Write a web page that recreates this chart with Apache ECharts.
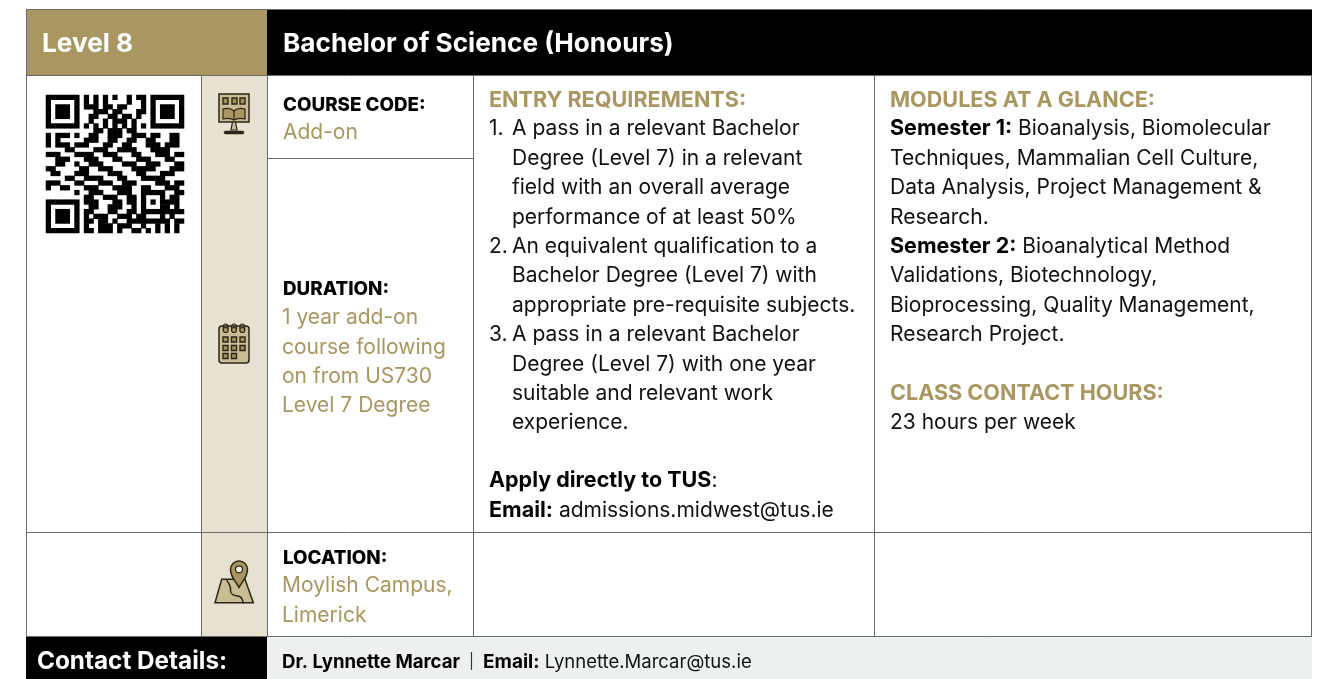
<!DOCTYPE html>
<html lang="en">
<head>
<meta charset="UTF-8">
<title>Bachelor of Science (Honours)</title>
<script src="https://cdn.jsdelivr.net/npm/echarts@6/dist/echarts.min.js"></script>
<style>
html,body{margin:0;padding:0;background:#fff}
#main{width:1325px;height:679px}
</style>
</head>
<body>
<div id="main"></div>
<script>
// page text
var levelTitle = 'Level 8';
var courseTitle = 'Bachelor of Science (Honours)';
var courseCodeLabel = 'COURSE CODE:';
var courseCodeValue = 'Add-on';
var durationLabel = 'DURATION:';
var durationLines = ['1 year add-on', 'course following', 'on from US730', 'Level 7 Degree'];
var locationLabel = 'LOCATION:';
var locationLines = ['Moylish Campus,', 'Limerick'];
var entryLabel = 'ENTRY REQUIREMENTS:';
var entryNumbers = ['1.', '', '', '', '2.', '', '', '3.', '', '', ''];
var entryLines = [
  'A pass in a relevant Bachelor', 'Degree (Level 7) in a relevant', 'field with an overall average',
  'performance of at least 50%', 'An equivalent qualification to a', 'Bachelor Degree (Level 7) with',
  'appropriate pre-requisite subjects.', 'A pass in a relevant Bachelor', 'Degree (Level 7) with one year',
  'suitable and relevant work', 'experience.'
];
var modulesLabel = 'MODULES AT A GLANCE:';
var moduleLines = [
  '{b|Semester 1:} Bioanalysis, Biomolecular', 'Techniques, Mammalian Cell Culture,',
  'Data Analysis, Project Management &', 'Research.', '{b|Semester 2:} Bioanalytical Method',
  'Validations, Biotechnology,', 'Bioprocessing, Quality Management,', 'Research Project.'
];
var hoursLabel = 'CLASS CONTACT HOURS:';
var hoursValue = '23 hours per week';
var applyLines = ['{b|Apply directly to TUS}:', '{b|Email:} admissions.midwest@tus.ie'];
var contactLabel = 'Contact Details:';
var contactName = 'Dr. Lynnette Marcar';
var contactEmail = '{b|Email:} Lynnette.Marcar@tus.ie';

// qr modules, 29 x 29
var qrRows = [
  '11111110101010100101101111111',
  '10000010101010000100101000001',
  '10111010111011011000101011101',
  '10111010001110110001101011101',
  '10111010011001101101001011101',
  '10000010010010111010001000001',
  '11111110101010101010101111111',
  '00000000001101110110000000000',
  '10111010011001110011101100110',
  '10100000111001100110011000110',
  '10111011100011001100011101110',
  '00001100001110011110001111000',
  '11100011110011100011000111011',
  '00111000111000110001110001100',
  '00110010011100001110011100011',
  '11000001100111000011111000111',
  '01100011100001110001100011100',
  '00001100111100011000111110000',
  '11100011000111001110000111011',
  '10011000111000111100110001110',
  '00000010011100011100111110011',
  '00000000110011100110100010110',
  '11111110111000110110101011110',
  '10000010011001110010100011010',
  '10111010110001100110111111111',
  '10111010101110011101100010100',
  '10111010110110100111111111011',
  '10000010100111011100100101010',
  '11111110110111010011010101010'
];

var GOLD = '#a99660', BEIGE = '#e6e1d0', LINE = '#6b6b6b', INK = '#111111';
var ICON = '#c9bd94', ICON_DK = '#2b2618', FONT = 'Inter';

var chart = echarts.init(document.getElementById('main'), null, { renderer: 'canvas' });
var els = [];
var iconEls = [];

function rect(x, y, w, h, fill) {
  els.push({ type: 'rect', shape: { x: x, y: y, width: w, height: h }, style: { fill: fill }, silent: true });
}
function line(x1, y1, x2, y2) {
  els.push({ type: 'line', shape: { x1: x1, y1: y1, x2: x2, y2: y2 }, style: { stroke: LINE, lineWidth: 1 }, silent: true });
}
function txt(x, y, s, size, color, weight) {
  els.push({
    type: 'text', x: x, y: y, silent: true, z: 5,
    style: {
      text: s, fill: color, font: (weight || 400) + ' ' + size + 'px ' + FONT,
      verticalAlign: 'middle', align: 'left',
      rich: { b: { fontFamily: FONT, fontWeight: 700, fontSize: size + 0.5, fill: '#000' } }
    }
  });
}
function path(d, fill, stroke, lw) {
  iconEls.push({ type: 'path', shape: { pathData: d }, style: { fill: fill, stroke: stroke, lineWidth: lw || 1.5 } });
}
function box(x, y, w, h) {
  path('M' + x + ' ' + y + 'h' + w + 'v' + h + 'h-' + w + 'z', '#a3915a', ICON_DK, 1.4);
}

// backgrounds
rect(26, 10, 241, 65, GOLD);
rect(267, 10, 1045, 65, '#000');
rect(201, 75, 66, 562, BEIGE);
rect(26, 637, 241, 42, '#000');
rect(267, 637, 1045, 42, '#eef0ef');

// rules
line(26, 9.5, 1312, 9.5);
line(26.5, 10, 26.5, 637);
line(1311.5, 75, 1311.5, 637);
line(26, 75.5, 1312, 75.5);
line(201.5, 75, 201.5, 637);
line(267.5, 75, 267.5, 637);
line(473.5, 75, 473.5, 637);
line(874.5, 75, 874.5, 637);
line(267, 158.5, 473, 158.5);
line(26, 532.5, 1312, 532.5);
line(26, 636.5, 1312, 636.5);

// header + footer
txt(42, 44, levelTitle, 26.2, '#fff', 700);
txt(283, 44, courseTitle, 26.2, '#fff', 700);
txt(37, 662, contactLabel, 24.3, '#fff', 700);
txt(282, 662, contactName, 18.6, '#000', 700);
txt(469, 661, '|', 15, '#333', 400);
txt(483, 662, contactEmail, 18.5, INK, 400);

// course code / duration / location
txt(283, 105, courseCodeLabel, 18.8, '#000', 800);
txt(283, 133, courseCodeValue, 21, GOLD, 400);
txt(283, 289, durationLabel, 18.8, '#000', 800);
durationLines.forEach(function (s, i) { txt(282, 318 + i * 29.3, s, 21, GOLD, 400); });
txt(283, 558, locationLabel, 18.8, '#000', 800);
locationLines.forEach(function (s, i) { txt(282, 586 + i * 30, s, 21, GOLD, 400); });

// entry requirements
txt(489, 100, entryLabel, 21.6, GOLD, 700);
entryLines.forEach(function (s, i) {
  var y = 129 + i * 29.4;
  if (entryNumbers[i]) txt(489, y, entryNumbers[i], 21, INK, 400);
  txt(512, y, s, 21, INK, 400);
});
applyLines.forEach(function (s, i) { txt(489, 481 + i * 29.5, s, 21, INK, 400); });

// modules
txt(890, 100, modulesLabel, 21.6, GOLD, 700);
moduleLines.forEach(function (s, i) { txt(890, 129 + i * 29.4, s, 21, INK, 400); });
txt(890, 393, hoursLabel, 21.6, GOLD, 700);
txt(890, 423, hoursValue, 21, INK, 400);

// icon: screen with book
path('M219 94h30v28h-30z', ICON, ICON_DK);
[223, 232, 240].forEach(function (x) { box(x, 98, 5, 6); });
path('M234 111c-3-3-7-3-11-2v10c4-1 8-1 11 1c3-2 7-2 11-1v-10c-4-1-8-1-11 2z', GOLD, ICON_DK, 1.2);
path('M234 111v9', 'none', ICON_DK, 1.2);
path('M232.5 122h3l1.5 8h-6z', ICON, ICON_DK, 1.2);
path('M225.5 131h17a1.5 1.5 0 0 1 0 3h-17a1.5 1.5 0 0 1 0-3z', ICON_DK, ICON_DK, 0.5);

// icon: calendar
path('M222 326h24a3 3 0 0 1 3 3v31a3 3 0 0 1-3 3h-24a3 3 0 0 1-3-3v-31a3 3 0 0 1 3-3z', ICON, ICON_DK);
[225.7, 234, 242.3].forEach(function (x) {
  path('M' + (x - 2.5) + ' 327a2.5 3 0 1 1 5 0a2.5 3 0 1 1-5 0z', 'none', ICON_DK, 1.2);
  path('M' + (x - 2.5) + ' 330a2.5 2.5 0 1 1 5 0a2.5 2.5 0 1 1-5 0z', GOLD, ICON_DK, 1.2);
});
[[223, 337], [231.5, 337], [240, 337], [223, 345.5], [231.5, 345.5], [240, 345.5], [223, 353.5], [231.5, 353.5]].forEach(function (p) {
  box(p[0], p[1], 5, 5);
});

// icon: map + pin
path('M221.7 579.3L245 579.3L253.3 602.7L215 602.7z', ICON, ICON_DK);
path('M226.5 579.5c3 6 5 7 4 11c0 5 5 5 9 6c3 1 3 4 4 7', 'none', ICON_DK, 1.4);
path('M239 587.5c-3-6-8.5-10-8.5-18a8.5 8.5 0 0 1 17 0c0 8-5.5 12-8.5 18z', GOLD, ICON_DK);
path('M235.5 569.3a3.5 3.5 0 1 1 7 0a3.5 3.5 0 1 1-7 0z', '#f4f1e6', ICON_DK, 1.2);

// qr cells from qrRows
var qrCells = [];
qrRows.forEach(function (row, r) {
  row.split('').forEach(function (c, col) {
    if (c === '1') qrCells.push([col, 28 - r, 1]);
  });
});
var qrIndex = qrRows.map(function (_, i) { return i; });

chart.setOption({
  animation: false,
  backgroundColor: '#fff',
  grid: { left: 46, top: 95, width: 138, height: 138, containLabel: false },
  xAxis: { type: 'category', data: qrIndex, show: false },
  yAxis: { type: 'category', data: qrIndex, show: false },
  visualMap: { show: false, min: 0, max: 1, seriesIndex: 0, inRange: { color: ['#000', '#000'] } },
  graphic: { elements: els },
  series: [
    { type: 'heatmap', data: qrCells, silent: true, itemStyle: { borderWidth: 0 } },
    {
      type: 'custom', coordinateSystem: 'none', data: [[0]], silent: true, z: 6,
      renderItem: function () { return { type: 'group', children: iconEls }; }
    }
  ]
});
</script>
</body>
</html>
